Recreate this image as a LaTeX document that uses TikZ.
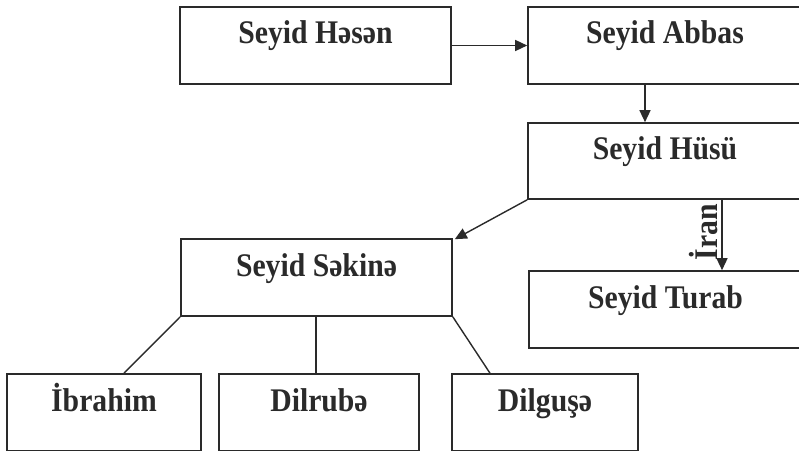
\documentclass[tikz,border=0pt]{standalone}
\usepackage{fontspec}
\setmainfont{Liberation Serif}[FakeStretch=0.9]
\usetikzlibrary{arrows.meta}
\definecolor{ink}{HTML}{2A2A2A}
\begin{document}
\begin{tikzpicture}[x=1pt,y=1pt,
  box/.style={draw=ink, line width=1.6pt, rectangle, inner sep=0pt,
    minimum height=77pt, text height=20pt, text depth=23pt,
    font=\fontsize{33}{36}\selectfont\bfseries, text=ink},
  link/.style={draw=ink, line width=1.4pt},
  arr/.style={link, -{Triangle[length=12pt,width=11pt]}}]
\useasboundingbox (0,0) rectangle (799,450);
\begin{scope}
\clip (0,0) rectangle (799,450);
\node[box, minimum width=271pt] (hasan) at (315.5,404.5) {Seyid Həsən};
\node[box, minimum width=274pt] (abbas) at (665,404.5) {Seyid Abbas};
\node[box, minimum width=274pt, minimum height=76pt] (husu) at (665,289) {Seyid Hüsü};
\node[box, minimum width=271pt] (sekine) at (316.5,172.5) {Seyid Səkinə};
\node[box, minimum width=273pt] (turab) at (665.5,140.5) {Seyid Turab};
\node[box, minimum width=194pt] (ibrahim) at (104,37.5) {İbrahim};
\node[box, minimum width=200pt] (dilrube) at (319,37.5) {Dilrubə};
\node[box, minimum width=186pt] (dilguse) at (545,37.5) {Dilguşə};
\end{scope}
\draw[arr] (hasan.east) -- (hasan.east -| abbas.west);
\draw[arr] (abbas.south -| 645,0) -- (husu.north -| 645,0);
\draw[arr] (husu.south west) -- ([xshift=2pt,yshift=-1pt]sekine.north east);
\draw[arr] (husu.south -| 722,0) coordinate (ira) -- (turab.north -| 722,0) coordinate (irb);
\node[rotate=90, anchor=base, font=\fontsize{33}{36}\selectfont\bfseries, text=ink, inner sep=0pt] (iran) at (717,218) {İran};
\draw[link] (sekine.south west) -- (ibrahim.north -| 124,0);
\draw[link] (sekine.south -| 316,0) -- (dilrube.north -| 316,0);
\draw[link] (sekine.south east) -- (dilguse.north -| 490,0);
\end{tikzpicture}
\end{document}
